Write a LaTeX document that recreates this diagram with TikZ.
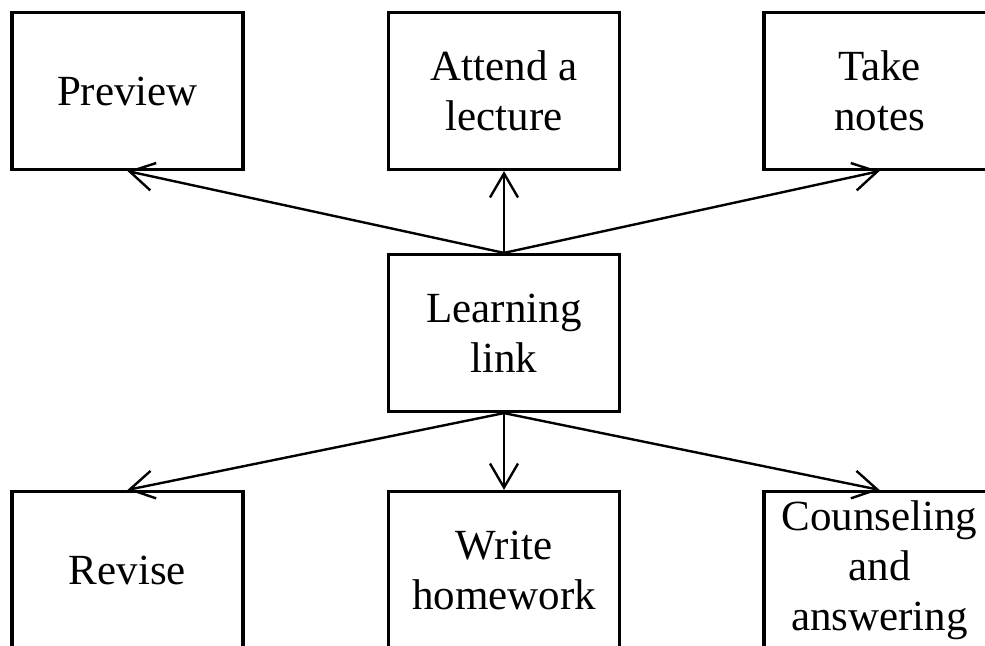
\documentclass[tikz,border=0pt]{standalone}
\usepackage{fontspec}
\setmainfont{Liberation Serif}
\usetikzlibrary{arrows.meta}
\begin{document}
\begin{tikzpicture}[x=0.5pt,y=-0.5pt,
  stepbox/.style={draw, line width=1.6pt, minimum width=115.5pt, minimum height=78.5pt,
    inner sep=0pt, align=center, font=\fontsize{21.5}{25}\selectfont},
  link/.style={line width=1.2pt, -{Straight Barb[length=12pt,width=14pt,line width=1.2pt]}}]
\useasboundingbox (0,0) rectangle (985,646);
\begin{scope}
\clip (0,0) rectangle (985,646);
\node[stepbox] (prev) at (127.5,91) {Preview};
\node[stepbox] (att) at (504,91) {Attend a\\lecture};
\node[stepbox] (take) at (879.5,91) {Take\\notes};
\node[stepbox] (learn) at (504,333) {Learning\\link};
\node[stepbox] (rev) at (127.5,570) {Revise};
\node[stepbox] (hw) at (504,570) {Write\\homework};
\node[stepbox] (couns) at (879.5,570) {Counseling\\and\\answering};
\draw[link] (learn.north) -- (prev.south);
\draw[link] (learn.north) -- (att.south);
\draw[link] (learn.north) -- (take.south);
\draw[link] (learn.south) -- (rev.north);
\draw[link] (learn.south) -- (hw.north);
\draw[link] (learn.south) -- (couns.north);
\end{scope}
\end{tikzpicture}
\end{document}
